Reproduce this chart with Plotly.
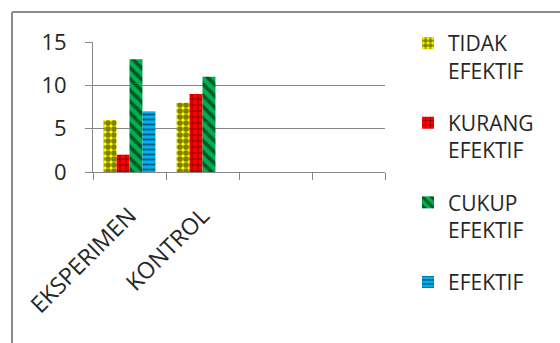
import plotly.graph_objects as go

categories = ["EKSPERIMEN", "KONTROL", " ", "  "]
series_names = ["TIDAK<br>EFEKTIF", "KURANG<br>EFEKTIF", "CUKUP<br>EFEKTIF", "EFEKTIF"]
tidak = [6, 8, None, None]
kurang = [2, 9, None, None]
cukup = [13, 11, None, None]
efektif = [7, 0, None, None]
y_ticks = [0, 5, 10, 15]

values = [tidak, kurang, cukup, efektif]
colors = ["#FFFF00", "#FF0000", "#00B050", "#00B0F0"]
patterns = [
    dict(shape=".", fgcolor="#000000", bgcolor="#FFFF00", size=6, solidity=0.7),
    dict(shape="+", fgcolor="#000000", bgcolor="#FF0000", size=6, solidity=0.3),
    dict(shape="\\", fgcolor="#000000", bgcolor="#00B050", size=8, solidity=0.45),
    dict(shape="-", fgcolor="#000000", bgcolor="#00B0F0", size=5, solidity=0.35),
]

W, H = 560, 343
L, R, T, B = 93, 175, 42, 171
pw, ph = W - L - R, H - T - B

def px(x):
    return (x - L) / pw

def py(y):
    return (H - B - y) / ph

fig = go.Figure()
for i, (name, vals) in enumerate(zip(series_names, values)):
    fig.add_trace(go.Bar(
        x=categories, y=vals, name=name,
        marker=dict(color=colors[i], pattern=patterns[i], line=dict(width=0)),
        legendgroup=str(i),
    ))

fnt = "Open Sans, Noto Sans, sans-serif"
grey = "#878787"
fig.update_layout(
    width=W, height=H,
    margin=dict(l=L, r=R, t=T, b=B, pad=0),
    paper_bgcolor="white", plot_bgcolor="white",
    barmode="group", bargap=0.29, bargroupgap=0,
    font=dict(family=fnt, size=20, color="#262626"),
    showlegend=True,
    legend=dict(x=px(408), y=py(23), xanchor="left", yanchor="top",
                font=dict(size=21, color="#262626"), tracegroupgap=22,
                traceorder="grouped", bgcolor="rgba(0,0,0,0)", valign="top",
                maxheight=H),
    xaxis=dict(type="category", categoryorder="array", categoryarray=categories,
               range=[-0.5, 3.5], tickson="boundaries", ticks="outside", ticklen=7,
               tickcolor=grey, showline=True, linecolor=grey, linewidth=1,
               showgrid=False, tickangle=-45, ticklabelstandoff=20,
               tickfont=dict(size=23, color="#262626")),
    yaxis=dict(range=[0, 15], tickvals=y_ticks, ticks="outside", ticklen=7,
               tickcolor=grey, showline=True, linecolor=grey, linewidth=1,
               showgrid=True, gridcolor=grey, gridwidth=1, zeroline=False,
               ticklabelstandoff=14, tickfont=dict(size=22, color="#262626")),
    shapes=[
        dict(type="line", xref="paper", yref="paper", x0=px(12), x1=px(W + 5),
             y0=py(12), y1=py(12), line=dict(color="#8c8c8c", width=2)),
        dict(type="line", xref="paper", yref="paper", x0=px(12), x1=px(12),
             y0=py(12), y1=py(H + 5), line=dict(color="#8c8c8c", width=2)),
    ],
)

fig.write_html("out.html")
